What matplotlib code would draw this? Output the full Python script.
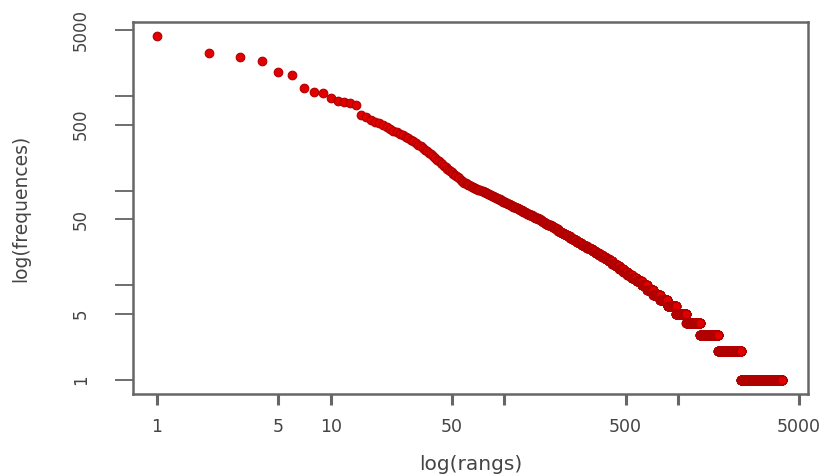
import matplotlib
matplotlib.use("Agg")
import matplotlib.pyplot as plt
import numpy as np

# frequencies of the 73 most frequent words (one value per rank)
head_freqs = [4360, 2880, 2620, 2355, 1785, 1675, 1210, 1115, 1070, 950,
              900, 870, 840, 800, 630, 600, 560, 535, 515, 495,
              470, 450, 430, 415, 400, 385, 372, 360, 345, 335,
              322, 308, 295, 283, 272, 262, 252, 242, 232, 222,
              214, 206, 198, 191, 184, 178, 172, 167, 162, 157,
              152, 147, 143, 139, 135, 131, 128, 125, 122, 120,
              118, 116, 114, 112, 110, 109, 107, 106, 105, 104,
              103, 102, 101]

# the rest: frequency value and how many words have it
tail_values = list(range(100, 0, -1))
tail_counts = [1, 1, 1, 1, 1, 1, 1, 1, 1, 1,      # 100..91
               1, 1, 1, 1, 1, 1, 1, 1, 1, 2,      # 90..81
               1, 1, 2, 1, 2, 1, 2, 1, 2, 2,      # 80..71
               1, 2, 2, 2, 2, 2, 2, 2, 2, 2,      # 70..61
               2, 2, 3, 3, 3, 3, 3, 3, 3, 3,      # 60..51
               4, 3, 3, 4, 3, 4, 4, 4, 4, 4,      # 50..41
               5, 5, 5, 5, 6, 6, 6, 7, 7, 7,      # 40..31
               8, 9, 9, 10, 10, 12, 12, 13, 15, 16,   # 30..21
               17, 17, 18, 20, 22, 25, 27, 31, 35, 40,  # 20..11
               47, 57, 68, 82, 103, 145, 225, 365, 610, 1680]  # 10..1

x_ticks = [1, 5, 10, 50, 100, 500, 1000, 5000]
x_labels = ["1", "5", "10", "50", "", "500", "", "5000"]
y_ticks = [1, 5, 10, 50, 100, 500, 1000, 5000]
y_labels = ["1", "5", "", "50", "", "500", "", "5000"]

freqs = np.concatenate([head_freqs, np.repeat(tail_values, tail_counts)])
rangs = np.arange(1, len(freqs) + 1)

plt.rcParams['font.family'] = ['DejaVu Sans']
fig = plt.figure(figsize=(8.36, 4.74), dpi=100)
ax = fig.add_axes([0.1591, 0.1688, 0.8074, 0.7848])

ax.plot(rangs, freqs, 'o', color='#e00000', markeredgecolor='#b00000',
        markeredgewidth=0.8, markersize=6.2)

ax.set_xscale('log')
ax.set_yscale('log')
ax.set_xlim(0.727, 5623)
ax.set_ylim(0.711, 6085)

ax.xaxis.set_minor_locator(matplotlib.ticker.NullLocator())
ax.yaxis.set_minor_locator(matplotlib.ticker.NullLocator())
ax.set_xticks(x_ticks)
ax.set_xticklabels(x_labels)
ax.set_yticks(y_ticks)
ax.set_yticklabels(y_labels, rotation=90, va='center')

for side in ax.spines.values():
    side.set_color('#666666')
    side.set_linewidth(1.8)

ax.tick_params(axis='x', direction='out', length=8, width=2.2,
               color='#666666', labelsize=12.5, labelcolor='#444444', pad=9)
ax.tick_params(axis='y', direction='out', length=13, width=1.2,
               color='#555555', labelsize=12, labelcolor='#444444', pad=18)

ax.set_xlabel("log(rangs)", fontsize=14.5, color='#444444', labelpad=14)
ax.set_ylabel("log(frequences)", fontsize=13.5, color='#444444', labelpad=30)

fig.savefig("out.png", dpi=100)
